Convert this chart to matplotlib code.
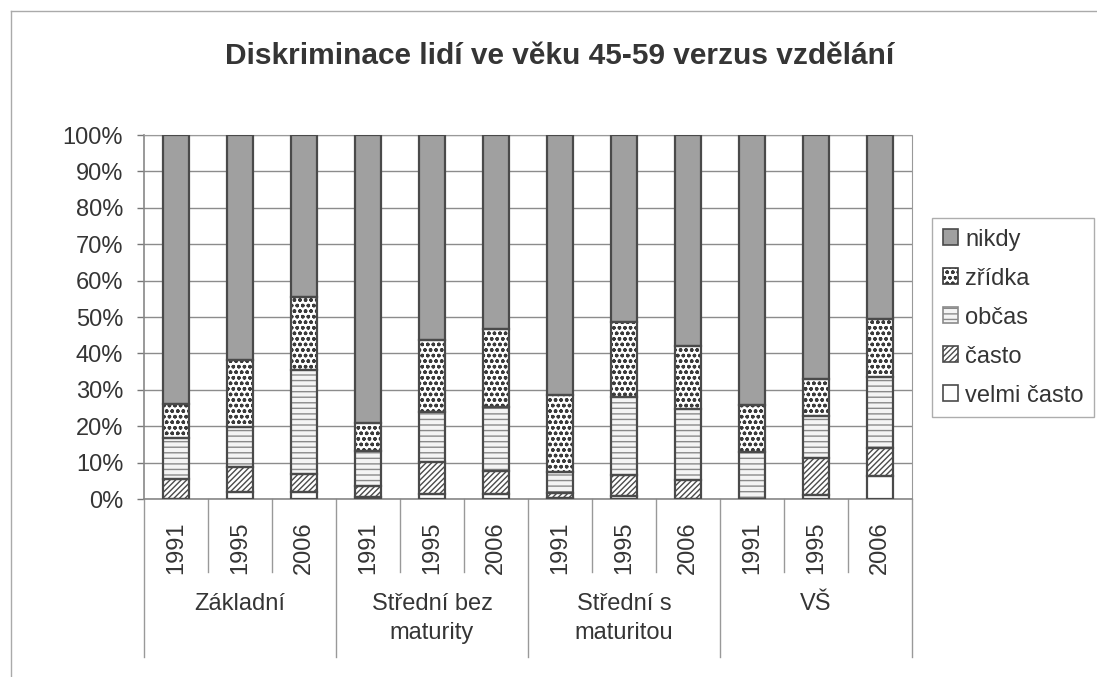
import numpy as np
import matplotlib
matplotlib.use('Agg')
import matplotlib.pyplot as plt
from matplotlib.lines import Line2D
from matplotlib.patches import Patch

plt.rcParams['font.family'] = ['Liberation Sans', 'DejaVu Sans']
plt.rcParams['hatch.linewidth'] = 1.0

groups = ['Základní', 'Střední bez\nmaturity', 'Střední s\nmaturitou', 'VŠ']
years = ['1991', '1995', '2006']

# shares in %, bars in order: Základní 1991..2006, Střední bez ..., Střední s ..., VŠ ...
velmi_casto = [0.0, 1.8, 1.8, 0.6, 1.3, 1.5, 0.3, 0.7, 0.0, 0.0, 1.1, 6.3]
casto = [5.4, 6.9, 5.2, 3.0, 8.9, 6.1, 1.4, 6.0, 5.3, 0.0, 10.2, 7.6]
obcas = [11.4, 11.0, 28.5, 9.5, 13.8, 17.8, 5.8, 21.2, 19.4, 13.0, 11.5, 19.5]
zridka = [9.2, 18.4, 20.0, 7.7, 19.6, 21.2, 21.1, 20.7, 17.3, 12.8, 10.2, 16.1]
nikdy = [74.0, 61.9, 44.5, 79.2, 56.4, 53.4, 71.4, 51.4, 58.0, 74.2, 67.0, 50.5]

# (label, values, face colour, hatch, hatch colour)
series = [('velmi často', velmi_casto, 'white', None, '#4a4a4a'),
          ('často', casto, 'white', '//////', '#4a4a4a'),
          ('občas', obcas, '#f4f4f4', '---', '#8a8a8a'),
          ('zřídka', zridka, 'white', 'ooo', '#3a3a3a'),
          ('nikdy', nikdy, '#a0a0a0', None, '#4a4a4a')]

txt = '#353535'
edge = '#4a4a4a'
fs = 17

fig = plt.figure(figsize=(10.97, 6.77), dpi=100)
ax = fig.add_axes([144 / 1097, 1 - 499 / 677, 768 / 1097, 364 / 677])

x = np.arange(len(nikdy))
bottom = np.zeros(len(x))
handles = []
for name, vals, fc, hatch, hc in series:
    # fill + hatch first, then the dark outline on top
    ax.bar(x, vals, 0.42, bottom=bottom, color=fc, edgecolor=hc, hatch=hatch,
           linewidth=0, zorder=3)
    ax.bar(x, vals, 0.42, bottom=bottom, fill=False, edgecolor=edge,
           linewidth=1.6, zorder=4)
    bottom += np.array(vals)
    handles.append(Patch(facecolor=fc, edgecolor=hc, hatch=hatch, linewidth=1.2, label=name))

ax.set_xlim(-0.5, len(x) - 0.5)
ax.set_ylim(0, 100)
ax.set_yticks(np.arange(0, 101, 10))
ax.set_yticklabels(['%d%%' % v for v in range(0, 101, 10)], fontsize=fs, color=txt)
ax.tick_params(axis='y', length=5, width=1, color='#777777', pad=10)
ax.yaxis.grid(True, color='#8c8c8c', linewidth=1, zorder=0)

ax.set_xticks(x)
ax.set_xticklabels(years * len(groups), rotation=90, fontsize=fs, color=txt, va='top')
ax.tick_params(axis='x', length=0, pad=16)

for s in ['top', 'right']:
    ax.spines[s].set_color('#999999')
    ax.spines[s].set_linestyle((0, (1, 1)))
for s in ['left', 'bottom']:
    ax.spines[s].set_color('#888888')
    ax.spines[s].set_linewidth(1.2)

# multi-level category axis
trans = ax.get_xaxis_transform()
for i in range(len(x) + 1):
    yb = -0.434 if i % 3 == 0 else -0.20
    ax.add_line(Line2D([i - 0.5, i - 0.5], [0, yb], transform=trans, color='#999999',
                       linewidth=1, clip_on=False))
for g, name in enumerate(groups):
    ax.text(3 * g + 1, -0.258, name, transform=trans, ha='center', va='top',
            fontsize=fs, color=txt, linespacing=1.4)

fig.text(560 / 1097, 1 - 56 / 677, 'Diskriminace lidí ve věku 45-59 verzus vzdělání',
         ha='center', va='center', fontsize=21.5, fontweight='bold', color=txt)

# outer chart border (cropped on right and bottom)
fig.add_artist(Line2D([11 / 1097, 11 / 1097], [1 - 11 / 677, 0], transform=fig.transFigure,
                      color='#aaaaaa', linewidth=1))
fig.add_artist(Line2D([11 / 1097, 1], [1 - 11 / 677, 1 - 11 / 677], transform=fig.transFigure,
                      color='#aaaaaa', linewidth=1))

leg = fig.legend(handles=handles[::-1], loc='upper left',
                 bbox_to_anchor=(932 / 1097, 1 - 218 / 677), fontsize=fs,
                 handlelength=0.65, handleheight=0.65, handletextpad=0.3,
                 labelspacing=0.72, borderpad=0.45, borderaxespad=0,
                 fancybox=False, frameon=True, labelcolor=txt)
leg.get_frame().set_edgecolor('#999999')
leg.get_frame().set_linewidth(1)

fig.savefig('out.png', dpi=100)
